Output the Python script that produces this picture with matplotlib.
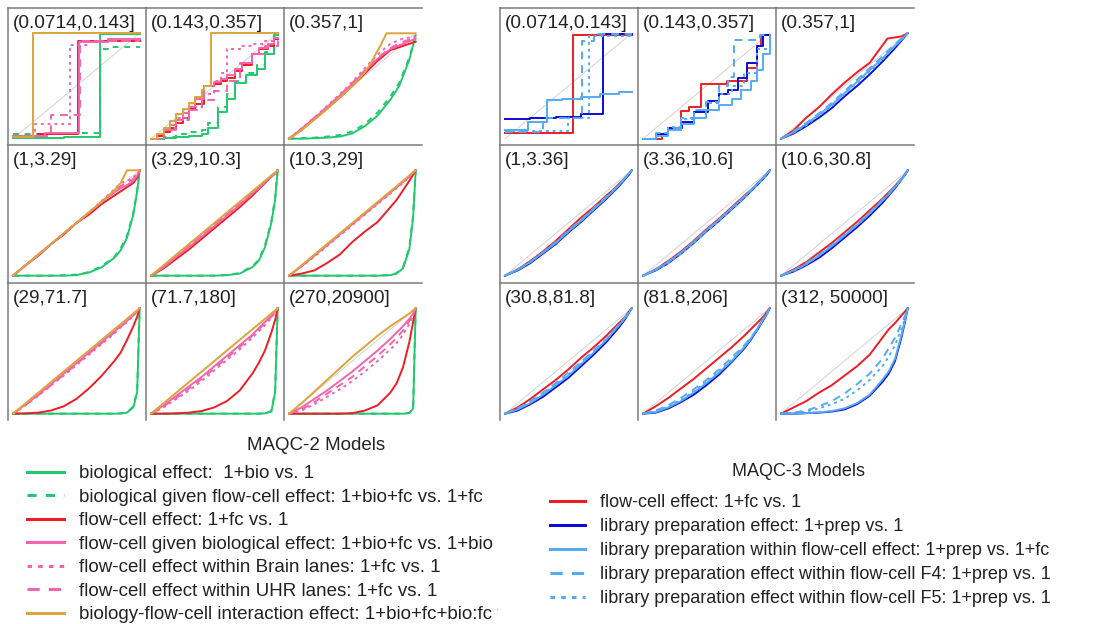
import matplotlib
matplotlib.use('Agg')
import matplotlib.pyplot as plt
from matplotlib.lines import Line2D
from matplotlib.transforms import Bbox, TransformedBbox

plt.rcParams['font.family'] = ['Liberation Sans', 'DejaVu Sans']

W, H = 1093, 624

# quantile grid shared by the smoother panels (rows 2 and 3)
GRID = [0, .1, .2, .3, .4, .5, .6, .7, .8, .85, .9, .95, .98, 1]

m2_bins = ['(0.0714,0.143]', '(0.143,0.357]', '(0.357,1]',
           '(1,3.29]', '(3.29,10.3]', '(10.3,29]',
           '(29,71.7]', '(71.7,180]', '(270,20900]']
m3_bins = ['(0.0714,0.143]', '(0.143,0.357]', '(0.357,1]',
           '(1,3.36]', '(3.36,10.6]', '(10.6,30.8]',
           '(30.8,81.8]', '(81.8,206]', '(312, 50000]']

m2_labels = ['biological effect:  1+bio vs. 1',
             'biological given flow-cell effect: 1+bio+fc vs. 1+fc',
             'flow-cell effect: 1+fc vs. 1',
             'flow-cell given biological effect: 1+bio+fc vs. 1+bio',
             'flow-cell effect within Brain lanes: 1+fc vs. 1',
             'flow-cell effect within UHR lanes: 1+fc vs. 1',
             'biology-flow-cell interaction effect: 1+bio+fc+bio:fc vs. 1+bio+fc']
m3_labels = ['flow-cell effect: 1+fc vs. 1',
             'library preparation effect: 1+prep vs. 1',
             'library preparation within flow-cell effect: 1+prep vs. 1+fc',
             'library preparation effect within flow-cell F4: 1+prep vs. 1',
             'library preparation effect within flow-cell F5: 1+prep vs. 1']

# ---- MAQC-2 curves, one (x, y) pair per panel ----
bio = [
    ([0, .15, .4, .685, 1], [.01, .01, .015, .99, .99]),
    ([0, .1, .2, .3, .4, .45, .53, .6, .66, .75, .84, .9, .97, 1],
     [0, .01, .02, .03, .04, .1, .25, .38, .53, .6, .66, .8, .98, .98]),
    ([0, .1, .2, .3, .4, .5, .6, .7, .8, .87, .95, 1],
     [0, 0, .005, .01, .02, .05, .12, .22, .37, .5, .75, .98]),
    (GRID, [0, 0, 0, 0, 0, .005, .03, .08, .17, .24, .36, .58, .8, 1]),
    (GRID, [0, 0, 0, 0, 0, 0, .005, .02, .08, .14, .27, .5, .72, 1]),
    (GRID, [0, 0, 0, 0, 0, 0, 0, 0, .005, .02, .07, .25, .55, 1]),
    (GRID, [0, 0, 0, 0, 0, 0, 0, 0, 0, .002, .01, .06, .2, 1]),
    (GRID, [0, 0, 0, 0, 0, 0, 0, 0, 0, 0, .003, .02, .2, 1]),
    (GRID, [0, 0, 0, 0, 0, 0, 0, 0, 0, 0, 0, .005, .05, 1]),
]
bio_fc = [
    ([0, .3, .685, .75, 1], [.04, .05, .85, .87, .87]),
    ([0, .1, .2, .3, .4, .45, .53, .6, .66, .75, .84, .9, .97, 1],
     [0, .02, .04, .06, .08, .15, .3, .42, .55, .62, .7, .82, .97, .97]),
    ([0, .1, .2, .3, .4, .5, .6, .7, .8, .87, .95, 1],
     [0, .005, .01, .02, .035, .07, .14, .25, .4, .53, .77, .98]),
    (GRID, [0, 0, 0, 0, .005, .01, .035, .09, .18, .26, .38, .6, .8, 1]),
    (GRID, [0, 0, 0, 0, 0, 0, .008, .025, .09, .15, .29, .52, .74, 1]),
    (GRID, [0, 0, 0, 0, 0, 0, 0, 0, .006, .025, .08, .27, .58, 1]),
    (GRID, [0, 0, 0, 0, 0, 0, 0, 0, 0, .003, .012, .07, .22, 1]),
    (GRID, [0, 0, 0, 0, 0, 0, 0, 0, 0, 0, .004, .025, .22, 1]),
    (GRID, [0, 0, 0, 0, 0, 0, 0, 0, 0, 0, 0, .006, .06, 1]),
]
fc = [
    ([0, .2, .51, 1], [.03, .04, .93, .93]),
    ([0, .05, .1, .15, .2, .25, .3, .35, .42, .5, .55, .6, .66, .72, .8, .85, .92, .97, 1],
     [0, .03, .06, .1, .15, .2, .28, .33, .5, .52, .55, .58, .64, .7, .8, .85, .88, .95, .95]),
    ([0, .1, .2, .3, .4, .5, .6, .7, .8, .9, 1],
     [0, .09, .19, .29, .39, .5, .62, .74, .84, .88, .92]),
    (GRID, [0, .1, .19, .3, .39, .5, .58, .68, .76, .8, .84, .88, .93, 1]),
    (GRID, [0, .07, .16, .25, .35, .45, .55, .65, .76, .82, .88, .94, .97, 1]),
    (GRID, [0, .02, .05, .12, .2, .32, .42, .51, .65, .72, .81, .9, .96, 1]),
    (GRID, [0, .003, .01, .03, .07, .14, .24, .36, .5, .58, .7, .83, .92, 1]),
    (GRID, [0, 0, .003, .01, .025, .06, .12, .22, .38, .48, .6, .77, .89, 1]),
    (GRID, [0, 0, 0, 0, 0, .005, .03, .08, .2, .29, .44, .68, .87, 1]),
]
fc_bio = [
    ([0, .25, .52, .75, 1], [.03, .05, .92, .95, .95]),
    ([0, .05, .1, .15, .2, .25, .3, .35, .42, .5, .55, .6, .66, .72, .8, .85, .92, .97, 1],
     [0, .04, .08, .13, .18, .24, .3, .38, .5, .54, .57, .6, .66, .72, .8, .86, .9, .96, .96]),
    ([0, .1, .2, .3, .4, .5, .6, .7, .8, .9, 1],
     [0, .09, .19, .3, .41, .52, .64, .76, .85, .9, .95]),
    (GRID, [0, .1, .2, .3, .4, .5, .6, .7, .79, .83, .86, .9, .95, 1]),
    (GRID, [0, .08, .18, .27, .37, .47, .57, .67, .78, .83, .89, .94, .97, 1]),
    (GRID, [0, .09, .19, .29, .39, .49, .59, .69, .79, .84, .89, .94, .98, 1]),
    (GRID, [0, .09, .18, .28, .38, .48, .58, .68, .78, .83, .88, .94, .97, 1]),
    (GRID, [0, .08, .17, .26, .35, .45, .55, .65, .75, .81, .87, .93, .97, 1]),
    (GRID, [0, .06, .14, .22, .31, .4, .5, .6, .71, .77, .83, .9, .95, 1]),
]
fc_brain = [
    ([0, .17, .45, .6, 1], [.02, .14, .89, .93, .93]),
    ([0, .1, .2, .3, .4, .5, .55, .6, .7, .8, .9, 1],
     [0, .1, .2, .3, .42, .55, .62, .85, .88, .9, .93, .93]),
    ([0, .1, .2, .3, .4, .5, .6, .7, .8, .9, 1],
     [0, .1, .2, .31, .42, .54, .67, .8, .9, .95, .97]),
    (GRID, [0, .1, .2, .3, .4, .5, .6, .71, .82, .88, .9, .93, .97, 1]),
    (GRID, [0, .09, .19, .29, .39, .49, .59, .69, .79, .84, .89, .95, .98, 1]),
    (GRID, [0, .09, .18, .28, .38, .48, .58, .68, .78, .83, .88, .94, .97, 1]),
    (GRID, [0, .08, .17, .27, .36, .46, .56, .66, .76, .82, .87, .93, .97, 1]),
    (GRID, [0, .06, .14, .22, .31, .41, .51, .61, .72, .78, .84, .91, .96, 1]),
    (GRID, [0, .03, .09, .16, .23, .31, .4, .5, .61, .67, .75, .85, .93, 1]),
]
fc_uhr = [
    ([0, .3, .53, 1], [.03, .22, .93, .93]),
    ([0, .1, .2, .3, .4, .5, .6, .7, .8, .9, 1],
     [0, .08, .18, .27, .37, .45, .55, .72, .8, .88, .95]),
    ([0, .1, .2, .3, .4, .5, .6, .7, .8, .9, 1],
     [0, .09, .2, .3, .41, .53, .65, .77, .86, .92, .96]),
    (GRID, [0, .1, .2, .3, .4, .5, .6, .7, .8, .85, .88, .92, .96, 1]),
    (GRID, [0, .09, .19, .29, .39, .49, .59, .69, .79, .84, .89, .95, .98, 1]),
    (GRID, [0, .095, .19, .29, .39, .49, .59, .69, .79, .84, .89, .94, .98, 1]),
    (GRID, [0, .085, .175, .27, .37, .47, .57, .67, .77, .825, .875, .935, .97, 1]),
    (GRID, [0, .07, .15, .24, .33, .43, .53, .63, .74, .8, .86, .92, .96, 1]),
    (GRID, [0, .04, .11, .19, .27, .35, .45, .55, .66, .72, .79, .88, .94, 1]),
]
interaction = [
    ([0, .16, 1], [.02, 1, 1]),
    ([0, .05, .1, .15, .2, .25, .3, .35, .4, .42, .47, 1],
     [0, .04, .1, .17, .23, .28, .34, .4, .46, .5, 1, 1]),
    ([0, .1, .2, .3, .4, .5, .6, .66, .72, .77, 1],
     [0, .08, .18, .28, .39, .5, .63, .75, .88, 1, 1]),
    (GRID, [0, .1, .2, .3, .4, .5, .6, .7, .81, .88, 1, 1, 1, 1]),
    (GRID, [0, .1, .2, .3, .4, .5, .6, .7, .8, .85, .9, .95, .98, 1]),
    (GRID, [0, .1, .2, .3, .4, .5, .6, .7, .8, .85, .9, .95, .98, 1]),
    (GRID, [0, .1, .2, .3, .4, .5, .6, .7, .8, .85, .9, .95, .98, 1]),
    (GRID, [0, .1, .2, .3, .4, .5, .6, .7, .8, .85, .9, .95, .98, 1]),
    (GRID, [0, .1, .21, .32, .43, .54, .64, .74, .83, .87, .91, .95, .98, 1]),
]

# ---- MAQC-3 curves ----
fc3 = [
    ([0, .54, 1], [.055, .98, .98]),
    ([0, .15, .2, .3, .36, .46, .6, .66, .82, .9, .93, 1],
     [0, .04, .1, .26, .3, .52, .52, .55, .67, .88, .98, .98]),
    ([0, .1, .2, .3, .4, .5, .6, .7, .84, .95, 1],
     [0, .08, .2, .3, .42, .53, .63, .72, .95, .97, 1]),
    (GRID, [0, .06, .14, .23, .33, .44, .55, .65, .76, .81, .87, .93, .97, 1]),
    (GRID, [0, .06, .14, .23, .33, .44, .54, .65, .76, .81, .87, .93, .97, 1]),
    (GRID, [0, .06, .13, .22, .31, .41, .51, .62, .73, .79, .85, .92, .96, 1]),
    (GRID, [0, .06, .14, .23, .32, .42, .53, .63, .74, .8, .86, .92, .97, 1]),
    (GRID, [0, .07, .15, .24, .33, .43, .53, .63, .74, .8, .86, .92, .97, 1]),
    (GRID, [0, .06, .12, .2, .27, .36, .45, .56, .72, .8, .86, .93, .97, 1]),
]
prep = [
    ([0, .2, .4, .6, .77, 1], [.19, .2, .21, .23, .99, .99]),
    ([0, .1, .2, .31, .4, .51, .6, .67, .75, .82, .9, .95, 1],
     [0, .04, .1, .16, .25, .36, .42, .46, .58, .72, .88, .98, .98]),
    ([0, .1, .2, .3, .4, .5, .6, .7, .8, .9, 1],
     [0, .05, .12, .2, .29, .4, .5, .61, .73, .86, 1]),
    (GRID, [0, .05, .12, .21, .3, .41, .51, .62, .73, .79, .85, .92, .96, 1]),
    (GRID, [0, .05, .12, .21, .31, .42, .52, .63, .74, .8, .86, .92, .96, 1]),
    (GRID, [0, .04, .1, .17, .26, .36, .46, .57, .69, .76, .83, .91, .96, 1]),
    (GRID, [0, .03, .09, .16, .25, .34, .45, .56, .68, .75, .82, .9, .96, 1]),
    (GRID, [0, .01, .05, .11, .18, .27, .37, .49, .62, .7, .79, .89, .95, 1]),
    (GRID, [0, 0, .005, .01, .02, .04, .09, .17, .3, .38, .5, .72, .88, 1]),
]
prep_fc = [
    ([0, .18, .33, .45, .6, .75, .9, 1], [.08, .16, .37, .38, .4, .42, .44, .44]),
    ([0, .1, .2, .3, .4, .5, .6, .7, .77, .85, .9, .95, 1],
     [0, .03, .08, .14, .2, .27, .32, .38, .46, .55, .65, .8, .98]),
    ([0, .1, .2, .3, .4, .5, .6, .7, .8, .9, 1],
     [0, .06, .14, .23, .32, .43, .54, .65, .76, .88, 1]),
    (GRID, [0, .055, .13, .22, .31, .42, .52, .63, .74, .8, .86, .93, .97, 1]),
    (GRID, [0, .055, .13, .22, .32, .43, .53, .64, .75, .81, .87, .93, .97, 1]),
    (GRID, [0, .05, .11, .19, .28, .38, .48, .59, .71, .77, .84, .91, .96, 1]),
    (GRID, [0, .04, .1, .18, .27, .36, .47, .58, .7, .77, .84, .91, .96, 1]),
    (GRID, [0, .015, .06, .12, .2, .29, .39, .5, .63, .71, .8, .9, .95, 1]),
    (GRID, [0, 0, .006, .012, .025, .05, .1, .18, .32, .4, .52, .74, .89, 1]),
]
prep_f4 = [
    ([0, .3, .61, .7, 1], [.06, .2, .93, .99, .99]),
    ([0, .1, .2, .3, .4, .5, .6, .67, .72, .92, 1],
     [0, .05, .1, .2, .27, .35, .5, .59, .94, .98, .98]),
    ([0, .1, .2, .3, .4, .5, .6, .7, .8, .9, 1],
     [0, .07, .15, .24, .34, .45, .56, .67, .78, .9, 1]),
    (GRID, [0, .06, .13, .22, .32, .43, .53, .64, .75, .8, .86, .93, .97, 1]),
    (GRID, [0, .06, .13, .22, .32, .43, .53, .64, .75, .81, .87, .93, .97, 1]),
    (GRID, [0, .05, .12, .2, .29, .39, .49, .6, .72, .78, .85, .92, .96, 1]),
    (GRID, [0, .05, .12, .2, .29, .39, .49, .6, .71, .78, .85, .92, .96, 1]),
    (GRID, [0, .03, .08, .15, .23, .32, .42, .53, .65, .72, .8, .9, .96, 1]),
    (GRID, [0, .01, .03, .07, .12, .19, .28, .38, .52, .62, .72, .85, .93, 1]),
]
prep_f5 = [
    ([0, .5, .66, 1], [.07, .2, .97, .99]),
    ([0, .1, .2, .3, .4, .5, .6, .7, .8, .9, 1],
     [0, .05, .11, .19, .27, .34, .42, .5, .62, .85, .98]),
    ([0, .1, .2, .3, .4, .5, .6, .7, .8, .9, 1],
     [0, .06, .13, .22, .31, .42, .53, .64, .75, .88, 1]),
    (GRID, [0, .06, .13, .22, .31, .42, .52, .63, .74, .8, .86, .93, .97, 1]),
    (GRID, [0, .05, .12, .21, .31, .42, .52, .63, .74, .8, .86, .92, .96, 1]),
    (GRID, [0, .045, .11, .19, .28, .38, .48, .59, .71, .77, .84, .91, .96, 1]),
    (GRID, [0, .045, .11, .19, .28, .37, .48, .59, .7, .77, .84, .91, .96, 1]),
    (GRID, [0, .025, .07, .13, .21, .3, .4, .51, .64, .71, .8, .9, .95, 1]),
    (GRID, [0, .005, .02, .05, .09, .14, .22, .32, .45, .54, .65, .8, .91, 1]),
]

GREEN, RED, PINK, GOLD = '#22c870', '#ee1c24', '#f464ae', '#dca43a'
BLUE, LIGHT = '#0b0bd6', '#55aaf2'

m2_series = [bio, bio_fc, fc, fc_bio, fc_brain, fc_uhr, interaction]
m2_styles = [dict(color=GREEN, ls='-'), dict(color=GREEN, ls=(0, (3, 3))),
             dict(color=RED, ls='-'), dict(color=PINK, ls='-'),
             dict(color=PINK, ls=(0, (1.5, 2))), dict(color=PINK, ls=(0, (4, 3))),
             dict(color=GOLD, ls='-')]
m3_series = [fc3, prep, prep_fc, prep_f4, prep_f5]
m3_styles = [dict(color=RED, ls='-'), dict(color=BLUE, ls='-'),
             dict(color=LIGHT, ls='-'), dict(color=LIGHT, ls=(0, (4, 3))),
             dict(color=LIGHT, ls=(0, (1.5, 2)))]

fig = plt.figure(figsize=(W / 100, H / 100), dpi=100)

PW, PH = 138, 137
ROW_TOPS = [8, 145, 283]


def draw_grid(left_px, series, styles, bins):
    for i in range(9):
        r, c = divmod(i, 3)
        x0 = left_px + c * PW
        y0 = ROW_TOPS[r]
        ax = fig.add_axes([x0 / W, 1 - (y0 + PH) / H, PW / W, PH / H])
        ax.plot([0, 1], [0, 1], color='#d2d2d2', lw=0.7)
        # the two lowest bins are drawn as empirical step functions
        draw = 'steps-post' if i < 2 else 'default'
        for s, st in zip(series, styles):
            xs, ys = s[i]
            ax.plot(xs, ys, color=st['color'], linestyle=st['ls'], lw=1.4,
                    drawstyle=draw)
        ax.set_xlim(-0.04, 1.05)
        ax.set_ylim(-0.06, 1.24)
        ax.set_xticks([])
        ax.set_yticks([])
        for side in ('right', 'bottom'):
            ax.spines[side].set_visible(False)
        for side in ('top', 'left'):
            ax.spines[side].set_color('#7a7a7a')
            ax.spines[side].set_linewidth(1.1)
        ax.text(0.036, 0.89, bins[i], transform=ax.transAxes, fontsize=13.7,
                ha='left', va='center', color='#222222')


draw_grid(8, m2_series, m2_styles, m2_bins)
draw_grid(500, m3_series, m3_styles, m3_bins)


def add_legend(labels, styles, x_px, y_px, size, spacing, clip_px=None):
    handles = [Line2D([], [], color=st['color'], linestyle=st['ls'], lw=2.2)
               for st in styles]
    leg = fig.legend(handles, labels, loc='upper left',
                     bbox_to_anchor=(x_px / W, 1 - y_px / H), frameon=False,
                     borderpad=0, borderaxespad=0, handlelength=1.95,
                     handletextpad=0.8, labelspacing=spacing, fontsize=size)
    for t in leg.get_texts():
        t.set_color('#222222')
    if clip_px is not None:
        box = TransformedBbox(Bbox.from_extents(0, 0, clip_px / W, 1),
                              fig.transFigure)
        for t in leg.get_texts():
            t.set_clip_box(box)
            t.set_clip_on(True)
    return leg


fig.text(316 / W, 1 - 445 / H, 'MAQC-2 Models', fontsize=13.5,
         ha='center', va='center', color='#222222')
add_legend(m2_labels, m2_styles, 27, 465, 13.5, 0.34, clip_px=498)

fig.text(798 / W, 1 - 472 / H, 'MAQC-3 Models', fontsize=13,
         ha='center', va='center', color='#222222')
add_legend(m3_labels, m3_styles, 550, 494, 13, 0.39)

fig.savefig('out.png', dpi=100, facecolor='white')
